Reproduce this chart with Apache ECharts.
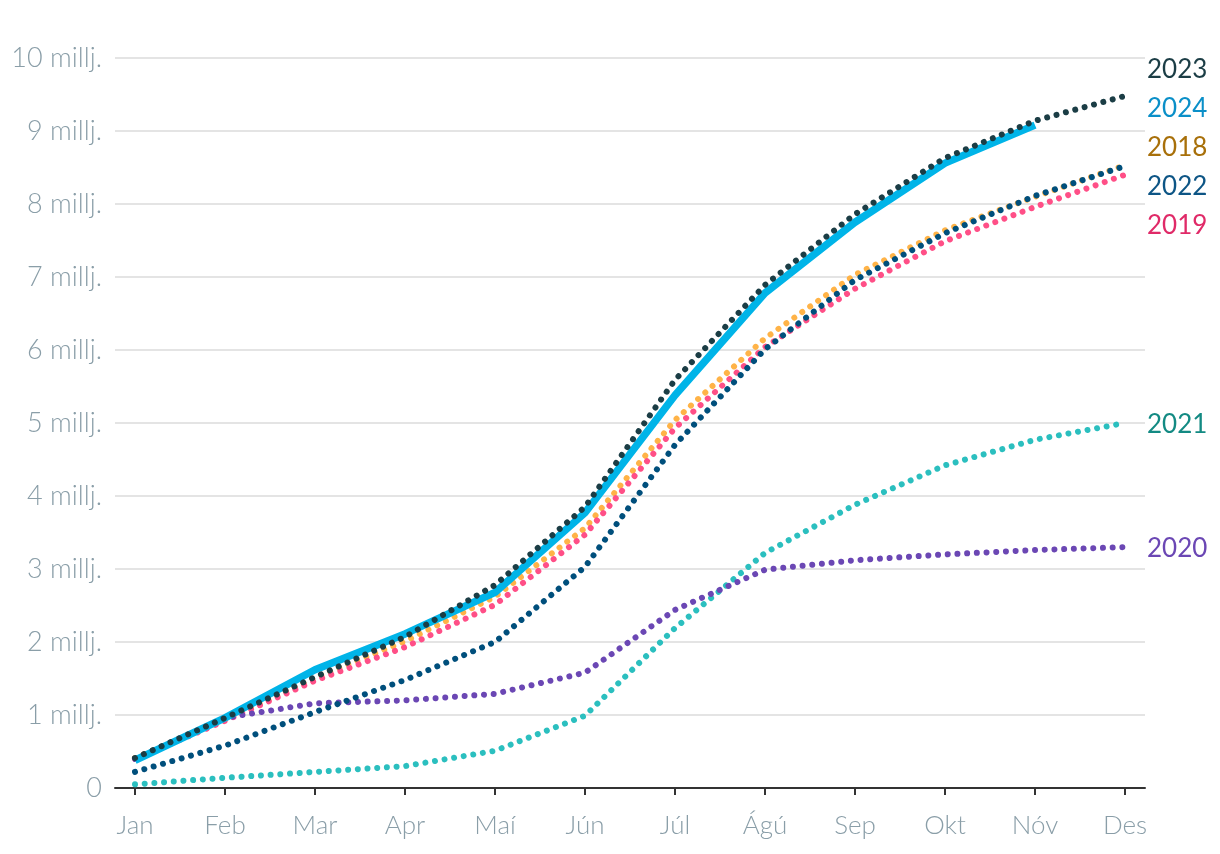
<!DOCTYPE html>
<html>
<head>
<meta charset="utf-8">
<style>
html,body{margin:0;padding:0;background:#fff;}
#chart{width:1220px;height:854px;}
</style>
<script src="https://cdn.jsdelivr.net/npm/echarts@6/dist/echarts.min.js"></script>
</head>
<body>
<div id="chart"></div>
<script>
const months = ['Jan','Feb','Mar','Apr','Maí','Jún','Júl','Ágú','Sep','Okt','Nóv','Des'];
const yTicks = [0,1,2,3,4,5,6,7,8,9,10];

const y2018 = [0.41,0.93,1.51,2.01,2.62,3.56,5.04,6.16,7.03,7.64,8.10,8.53];
const y2019 = [0.40,0.92,1.47,1.93,2.51,3.47,4.93,6.04,6.84,7.49,7.96,8.40];
const y2020 = [0.40,0.96,1.16,1.20,1.29,1.58,2.44,2.99,3.12,3.20,3.26,3.30];
const y2021 = [0.05,0.14,0.22,0.30,0.51,0.99,2.19,3.22,3.88,4.42,4.77,5.00];
const y2022 = [0.22,0.58,1.04,1.48,2.00,3.03,4.70,6.01,6.96,7.60,8.11,8.52];
const y2023 = [0.41,0.96,1.52,2.07,2.78,3.85,5.59,6.89,7.86,8.63,9.14,9.48];
const y2024 = [0.38,0.96,1.62,2.11,2.68,3.77,5.38,6.78,7.75,8.56,9.08];

const seriesDefs = [
  {name:'2018', data:y2018, color:'#ffb347', label:'#a8700a', dotted:true},
  {name:'2019', data:y2019, color:'#ff4f87', label:'#e02a68', dotted:true},
  {name:'2021', data:y2021, color:'#2bbfbf', label:'#138a83', dotted:true},
  {name:'2020', data:y2020, color:'#6b47b4', label:'#6b47b4', dotted:true},
  {name:'2022', data:y2022, color:'#004f7c', label:'#0d5585', dotted:true},
  {name:'2024', data:y2024, color:'#00b4e8', label:'#0a8fc8', dotted:false},
  {name:'2023', data:y2023, color:'#1b3d45', label:'#1b3d45', dotted:true}
];

const FONT = 'Lato, "Noto Sans", sans-serif';
const chart = echarts.init(document.getElementById('chart'), null, {renderer:'canvas'});

const monthIdx = months.map((m, i) => i);

const series = seriesDefs.map(s => ({
  name: s.name,
  type: 'line',
  data: s.data.map((v, i) => [i, v]),
  showSymbol: false,
  symbol: 'none',
  smooth: false,
  animation: false,
  silent: true,
  lineStyle: s.dotted
    ? {color: s.color, width: 6, type: [0.01, 9.7], cap: 'round', join: 'round'}
    : {color: s.color, width: 7.5, type: 'solid', cap: 'butt', join: 'round'}
}));

chart.setOption({
  animation: false,
  grid: {left: 115, right: 75, top: 58, bottom: 66, containLabel: false},
  xAxis: {
    type: 'value',
    min: -0.2222, max: months.length - 1 + 0.2222,
    splitLine: {show: false},
    axisLine: {show: true, onZero: false, lineStyle: {color: '#333', width: 2}},
    axisTick: {show: true, length: 7, customValues: monthIdx, lineStyle: {color: '#333', width: 2}},
    axisLabel: {
      customValues: monthIdx,
      color: '#8a9ea8', fontFamily: FONT, fontWeight: 300, fontSize: 26, margin: 25,
      formatter: v => months[Math.round(v)] || ''
    }
  },
  yAxis: {
    type: 'value',
    min: 0, max: 10, interval: 1,
    axisLine: {show: false},
    axisTick: {show: false},
    splitLine: {show: true, lineStyle: {color: '#e4e4e4', width: 2}},
    axisLabel: {
      color: '#8a9ea8', fontFamily: FONT, fontWeight: 300, fontSize: 27, margin: 13,
      formatter: v => v === 0 ? '0' : (yTicks.includes(v) ? v + ' millj.' : '')
    }
  },
  series: series
});

// End labels at the right with de-overlap (centered clusters)
function placeLabels() {
  const xEnd = chart.convertToPixel({gridIndex: 0}, [months.length - 1, 0])[0];
  const items = seriesDefs.map(s => {
    const last = s.data.length - 1;
    const p = chart.convertToPixel({gridIndex: 0}, [last, s.data[last]]);
    return {name: s.name, color: s.label, target: p[1], x: xEnd + 22};
  }).sort((a, b) => a.target - b.target);
  const gap = 39;
  let clusters = items.map(it => ({members: [it], center: it.target}));
  let changed = true;
  while (changed) {
    changed = false;
    for (let i = 0; i < clusters.length - 1; i++) {
      const a = clusters[i], b = clusters[i + 1];
      const aBottom = a.center + (a.members.length - 1) * gap / 2;
      const bTop = b.center - (b.members.length - 1) * gap / 2;
      if (bTop - aBottom < gap) {
        const members = a.members.concat(b.members);
        const center = members.reduce((s, m) => s + m.target, 0) / members.length;
        clusters.splice(i, 2, {members, center});
        changed = true;
        break;
      }
    }
  }
  const graphics = [];
  clusters.forEach(c => {
    const n = c.members.length;
    c.members.forEach((m, k) => {
      const y = c.center + (k - (n - 1) / 2) * gap + 2;
      graphics.push({
        type: 'text', x: m.x, y: y, silent: true,
        style: {text: m.name, fill: m.color, font: '400 26px ' + FONT, textAlign: 'left', textVerticalAlign: 'middle'}
      });
    });
  });
  chart.setOption({graphic: graphics});
}
placeLabels();
</script>
</body>
</html>
